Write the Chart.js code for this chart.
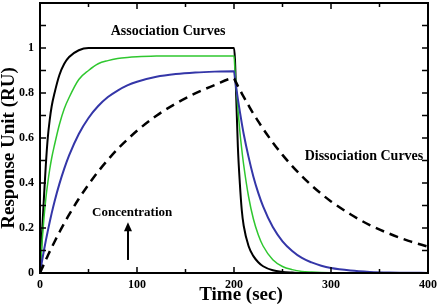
<!DOCTYPE html>
<html lang="en">

<head>
    <meta charset="UTF-8">
    <title>Association and Dissociation Curves</title>
    <style>
        html, body { margin: 0; padding: 0; background: #fff; }
    </style>
</head>

<body>
    <canvas id="ctx" width="440" height="307"></canvas>

    <script src="https://cdn.jsdelivr.net/npm/chart.js"></script>
    <script>
        // Sample times (sec): association 0-200, dissociation 200-400
        const times = [0, 2, 4, 6, 8, 10, 12, 15, 20, 25, 30, 40, 50, 60, 70, 80, 90, 100, 120, 140, 160, 180, 200,
            201, 202, 204, 206, 208, 210, 215, 220, 225, 230, 240, 250, 260, 270, 280, 290, 300, 320, 340, 360, 380, 400];

        // Response (RU) for each concentration
        const blackCurve = [0, 0.17, 0.33, 0.48, 0.6, 0.68, 0.74, 0.8, 0.88, 0.93, 0.96, 0.99, 1, 1, 1, 1, 1, 1, 1, 1, 1, 1, 1,
            0.95, 0.82, 0.56, 0.4, 0.28, 0.21, 0.12, 0.075, 0.048, 0.03, 0.012, 0.005, 0.002, 0, 0, 0, 0, 0, 0, 0, 0, 0];
        const greenCurve = [0, 0.13, 0.24, 0.33, 0.40, 0.46, 0.51, 0.57, 0.66, 0.73, 0.78, 0.86, 0.90, 0.93, 0.944, 0.953, 0.958, 0.961, 0.964, 0.965, 0.965, 0.965, 0.965,
            0.90, 0.84, 0.73, 0.63, 0.55, 0.48, 0.34, 0.24, 0.17, 0.12, 0.059, 0.029, 0.015, 0.007, 0.004, 0.002, 0.001, 0, 0, 0, 0, 0];
        const blueCurve = [0, 0.051, 0.099, 0.144, 0.186, 0.227, 0.265, 0.318, 0.396, 0.464, 0.523, 0.618, 0.689, 0.742, 0.782, 0.811, 0.834, 0.850, 0.872, 0.884, 0.891, 0.895, 0.897,
            0.864, 0.833, 0.773, 0.718, 0.666, 0.618, 0.516, 0.428, 0.356, 0.296, 0.204, 0.141, 0.098, 0.067, 0.047, 0.032, 0.022, 0.011, 0.005, 0.002, 0.001, 0.0005];
        const dashedCurve = [0, 0.020, 0.039, 0.058, 0.077, 0.095, 0.113, 0.139, 0.181, 0.221, 0.259, 0.330, 0.393, 0.451, 0.503, 0.551, 0.593, 0.632, 0.699, 0.753, 0.798, 0.835, 0.865,
            0.856, 0.848, 0.831, 0.815, 0.798, 0.783, 0.745, 0.708, 0.674, 0.641, 0.580, 0.525, 0.475, 0.430, 0.389, 0.352, 0.318, 0.261, 0.213, 0.175, 0.143, 0.117];

        // Tick marks (inside the frame) and labels
        const xTickMarks = [0, 50, 100, 150, 200, 250, 300, 350, 400];
        const yTickMarks = [0, 0.1, 0.2, 0.3, 0.4, 0.5, 0.6, 0.7, 0.8, 0.9, 1.0, 1.1, 1.2];
        const yTickLabels = ['0', '0.2', '0.4', '0.6', '0.8', '1'];

        const serif = "'Liberation Serif', 'Times New Roman', serif";

        const toPoints = vals => vals.map((v, i) => ({ x: times[i], y: v }));

        function curve(vals, color, width, dash) {
            return {
                data: toPoints(vals),
                borderColor: color,
                borderWidth: width,
                borderDash: dash || [],
                pointRadius: 0,
                fill: false,
                cubicInterpolationMode: 'monotone'
            };
        }

        // frame, inward ticks and text notes
        const decorations = {
            id: 'decorations',
            afterDatasetsDraw(chart) {
                const { ctx, chartArea: a, scales: { x, y } } = chart;
                ctx.save();
                ctx.strokeStyle = '#000';
                ctx.lineWidth = 2;
                ctx.strokeRect(a.left, a.top, a.right - a.left, a.bottom - a.top);

                ctx.lineWidth = 1.5;
                ctx.beginPath();
                xTickMarks.forEach(v => {
                    const px = x.getPixelForValue(v);
                    const len = v % 100 === 0 ? 6 : 4;
                    ctx.moveTo(px, a.bottom); ctx.lineTo(px, a.bottom - len);
                    ctx.moveTo(px, a.top); ctx.lineTo(px, a.top + len);
                });
                yTickMarks.forEach(v => {
                    const py = y.getPixelForValue(v);
                    ctx.moveTo(a.left, py); ctx.lineTo(a.left + 6, py);
                    ctx.moveTo(a.right, py); ctx.lineTo(a.right - 6, py);
                });
                ctx.stroke();

                ctx.fillStyle = '#000';
                ctx.textAlign = 'center';
                ctx.textBaseline = 'middle';
                ctx.font = 'bold 14px ' + serif;
                ctx.fillText('Association Curves', x.getPixelForValue(132), y.getPixelForValue(1.075));
                ctx.fillText('Dissociation Curves', x.getPixelForValue(334), y.getPixelForValue(0.518));
                ctx.font = 'bold 13px ' + serif;
                ctx.fillText('Concentration', x.getPixelForValue(95), y.getPixelForValue(0.27));

                // arrow pointing up
                const ax = x.getPixelForValue(90.7);
                const y0 = y.getPixelForValue(0.058);
                const y1 = y.getPixelForValue(0.226);
                ctx.lineWidth = 2;
                ctx.beginPath();
                ctx.moveTo(ax, y0); ctx.lineTo(ax, y1 + 6);
                ctx.stroke();
                ctx.beginPath();
                ctx.moveTo(ax, y1); ctx.lineTo(ax - 4, y1 + 9); ctx.lineTo(ax + 4, y1 + 9);
                ctx.closePath();
                ctx.fill();

                // axis titles
                ctx.font = 'bold 19px ' + serif;
                ctx.fillText('Time (sec)', (a.left + a.right) / 2 + 7, 295);
                ctx.translate(9, 148);
                ctx.rotate(-Math.PI / 2);
                ctx.fillText('Response Unit (RU)', 0, 0);
                ctx.restore();
            }
        };

        const tickFont = { family: serif, weight: 'bold', size: 12 };

        new Chart(document.getElementById('ctx'), {
            type: 'line',
            data: {
                datasets: [
                    curve(dashedCurve, '#000', 2.5, [9, 6]),
                    curve(blueCurve, '#3436a8', 2),
                    curve(greenCurve, '#2fc72f', 1.5),
                    curve(blackCurve, '#000', 2)
                ]
            },
            options: {
                responsive: false,
                animation: false,
                layout: { padding: { top: 3, right: 12, left: 0, bottom: 0 } },
                plugins: { legend: { display: false }, tooltip: { enabled: false } },
                scales: {
                    x: {
                        type: 'linear',
                        min: 0,
                        max: 400,
                        grid: { display: false, drawTicks: false },
                        border: { display: false },
                        ticks: { stepSize: 100, color: '#000', font: tickFont, padding: 5, maxRotation: 0 },
                        afterFit: s => { s.height = 34; s.paddingLeft = 0; s.paddingRight = 0; }
                    },
                    y: {
                        min: 0,
                        max: 1.2,
                        grid: { display: false, drawTicks: false },
                        border: { display: false },
                        ticks: {
                            stepSize: 0.2,
                            color: '#000',
                            font: tickFont,
                            padding: 6,
                            callback: (v, i) => yTickLabels[i] || ''
                        },
                        afterFit: s => { s.width = 40; s.paddingTop = 0; s.paddingBottom = 0; }
                    }
                }
            },
            plugins: [decorations]
        });
    </script>
</body>

</html>
